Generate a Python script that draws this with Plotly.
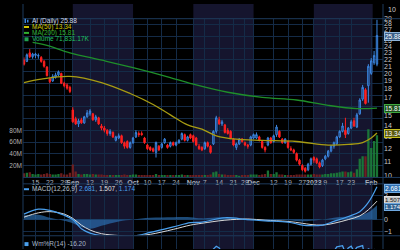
import math
import plotly.graph_objects as go

# ---------------- data (trading-day index 0 = 2022-08-09 ... 123 = 2023-02-03) ----------------
opens = [
    21.9, 21.7, 23.0, 22.4, 22.6, 22.5, 22.3, 21.7, 20.9, 19.3, 19.0, 19.5, 19.8, 20.0, 18.7, 18.5, 18.2,
    15.6, 14.7, 14.2, 14.6, 14.3, 14.9, 15.2, 15.2, 14.6, 14.8, 14.0, 13.8, 13.6, 13.3, 13.4, 12.7, 12.9, 13.1, 12.5, 12.6, 12.1,
    12.5, 13.0, 13.3, 13.3, 12.9, 12.3, 12.1, 12.0, 11.7, 12.2, 12.1, 12.5, 12.3, 12.2, 12.5, 12.3, 12.5, 12.8, 13.2, 12.7, 13.2,
    13.1, 12.9, 12.2, 12.1, 12.0, 12.5, 12.2, 12.4, 13.5, 14.6, 14.2, 14.1, 13.6, 13.5, 12.8, 12.1, 12.4, 12.8, 12.5, 12.3, 12.3,
    12.9, 12.9, 13.0, 12.6, 12.1, 12.3, 12.9, 12.6, 13.2, 13.5, 12.8, 12.5, 12.6, 12.0, 11.9, 11.6, 11.1, 10.7, 10.5, 10.4, 10.8,
    11.3, 11.2, 10.9, 10.7, 11.2, 11.4, 11.8, 12.2, 12.4, 13.0, 13.5, 13.6, 13.3, 13.8, 14.5, 13.9, 15.2, 16.8, 17.9, 18.4, 20.0, 21.5, 21.3,
]
highs = [
    22.3, 22.9, 23.6, 23.0, 23.0, 22.9, 22.5, 21.9, 21.0, 19.4, 19.9, 20.1, 20.4, 20.1, 18.9, 18.7, 18.4,
    15.9, 14.9, 14.7, 14.8, 15.0, 15.6, 15.7, 15.3, 15.1, 14.9, 14.2, 14.0, 13.7, 13.7, 13.5, 13.1, 13.3, 13.2, 12.6, 12.7, 12.6,
    13.0, 13.6, 13.5, 13.5, 13.0, 12.4, 12.2, 12.1, 12.6, 12.3, 12.5, 12.9, 12.4, 12.6, 12.6, 12.6, 12.8, 13.4, 13.3, 13.1, 13.3,
    13.2, 13.0, 12.4, 12.2, 12.6, 12.6, 12.3, 13.6, 15.0, 14.9, 14.6, 14.2, 13.8, 13.6, 12.9, 12.5, 12.9, 12.9, 12.6, 12.4, 13.1,
    13.3, 13.4, 13.1, 12.7, 12.2, 13.0, 13.0, 13.2, 14.1, 13.6, 12.9, 12.9, 12.7, 12.2, 12.0, 11.7, 11.2, 10.8, 10.6, 10.9, 11.3,
    11.4, 11.3, 11.0, 11.2, 11.5, 11.9, 12.3, 12.6, 13.1, 13.6, 14.3, 14.8, 13.9, 14.6, 14.8, 15.3, 16.9, 18.5, 18.1, 21.3, 22.2, 23.3, 28.8,
]
lows = [
    21.1, 21.6, 22.2, 22.1, 22.2, 22.1, 21.5, 20.8, 19.6, 18.7, 18.9, 19.3, 19.6, 18.6, 18.2, 17.9, 17.5,
    14.3, 14.1, 13.9, 14.2, 14.2, 14.8, 15.0, 14.5, 14.4, 14.1, 13.6, 13.4, 13.1, 13.1, 12.9, 12.6, 12.8, 12.4, 12.0, 12.0, 12.0,
    12.4, 12.9, 13.0, 13.1, 12.4, 11.9, 11.8, 11.7, 11.3, 11.8, 12.0, 12.4, 12.0, 12.1, 12.2, 12.2, 12.4, 12.7, 12.6, 12.6, 12.8,
    12.5, 12.2, 11.9, 11.8, 11.9, 12.1, 11.6, 12.3, 13.3, 14.1, 14.0, 13.3, 13.2, 12.8, 12.2, 11.9, 12.3, 12.5, 12.2, 12.0, 12.2,
    12.8, 12.8, 12.6, 12.0, 11.7, 12.2, 12.4, 12.5, 13.0, 12.9, 12.4, 12.4, 12.0, 11.8, 11.6, 11.0, 10.7, 10.3, 10.2, 10.3, 10.7,
    10.9, 10.8, 10.5, 10.6, 11.1, 11.3, 11.7, 12.0, 12.3, 12.9, 13.4, 12.9, 13.2, 13.7, 13.9, 13.8, 15.1, 16.6, 16.2, 16.4, 19.8, 21.2, 21.0,
]
closes = [
    21.3, 22.7, 22.4, 22.8, 22.8, 22.6, 21.7, 21.0, 19.7, 18.9, 19.6, 19.8, 20.2, 18.7, 18.4, 18.1, 17.7,
    14.4, 14.2, 14.5, 14.3, 14.9, 15.3, 15.5, 14.6, 14.9, 14.2, 13.8, 13.6, 13.3, 13.5, 13.0, 13.0, 13.1, 12.5, 12.2, 12.1, 12.5,
    12.9, 13.4, 13.2, 13.2, 12.5, 12.0, 11.9, 11.8, 12.5, 11.9, 12.4, 12.8, 12.1, 12.5, 12.3, 12.5, 12.7, 13.3, 12.7, 13.0, 12.9,
    12.6, 12.3, 12.0, 11.9, 12.5, 12.2, 11.7, 13.5, 14.8, 14.2, 14.4, 13.4, 13.3, 12.9, 12.3, 12.4, 12.8, 12.6, 12.3, 12.2, 13.0,
    13.2, 13.2, 12.7, 12.1, 11.9, 12.9, 12.5, 13.1, 13.9, 13.0, 12.5, 12.8, 12.1, 11.9, 11.7, 11.1, 10.8, 10.4, 10.3, 10.8, 11.2,
    11.1, 10.9, 10.6, 11.1, 11.4, 11.8, 12.2, 12.5, 13.0, 13.5, 14.0, 13.2, 13.8, 14.4, 14.0, 15.1, 16.7, 18.2, 16.3, 21.0, 21.8, 22.6, 25.88,
]
volumes_m = [
    7, 8, 9, 6, 5, 6, 5, 6, 7, 6, 5, 5, 6, 7, 5, 5, 8,
    22, 10, 6, 5, 6, 6, 5, 6, 5, 5, 5, 4, 4, 4, 4, 4, 4, 4, 5, 4, 4,
    5, 5, 4, 4, 4, 4, 4, 4, 6, 4, 4, 4, 4, 4, 4, 4, 4, 5, 4, 4, 4,
    4, 4, 4, 4, 4, 4, 5, 9, 10, 6, 5, 5, 4, 4, 4, 4, 3, 4, 4, 4, 5,
    5, 5, 4, 5, 6, 12, 6, 6, 9, 5, 5, 4, 4, 4, 4, 5, 5, 5, 5, 5, 5,
    6, 5, 5, 5, 6, 6, 7, 7, 8, 9, 10, 10, 9, 10, 8, 14, 32, 36, 36, 82, 50, 62, 71.8,
]

ma50_i = [0, 6, 16, 27, 37, 45, 51, 57, 62, 67, 74, 83, 95, 106, 113, 118, 121, 123]
ma50_v = [18.8, 19.25, 19.6, 18.8, 17.45, 16.2, 15.1, 14.1, 13.7, 13.1, 12.8, 12.7, 12.6, 12.3, 12.35, 12.5, 12.9, 13.34]

ma200_i = [3, 8, 16, 28, 38, 51, 60, 71, 83, 95, 106, 116, 123]
ma200_v = [24.7, 24.2, 23.0, 21.8, 20.8, 19.45, 18.5, 17.6, 17.0, 16.7, 16.1, 15.75, 15.81]

macd_i = [0, 5, 9, 14, 17, 20, 23, 27, 33, 38, 44, 52, 58, 62, 70, 78, 84, 92, 97, 100, 104, 108, 113, 117, 120, 123]
macd_v = [0.45, 0.85, 0.75, 0.35, 0.0, -0.75, -1.1, -1.3, -1.35, -1.35, -1.05, -0.6, -0.25, -0.2, 0.15, 0.0,
          -0.1, -0.2, -0.45, -0.5, -0.45, -0.15, 0.25, 0.65, 1.4, 2.681]
signal_v = [0.2, 0.55, 0.65, 0.45, 0.1, -0.45, -0.85, -1.15, -1.3, -1.35, -1.2, -0.8, -0.45, -0.3, -0.05, 0.05,
            -0.05, -0.15, -0.3, -0.4, -0.45, -0.3, 0.0, 0.3, 0.8, 1.507]
hist_v = [0.35, 0.4, 0.15, -0.1, -0.3, -0.6, -0.75, -0.5, -0.15, 0.0, 0.15, 0.2, 0.2, 0.1, 0.2, -0.05,
          -0.05, -0.05, -0.15, -0.1, 0.0, 0.15, 0.25, 0.35, 0.6, 1.174]

wr_i = [0, 8, 13, 17, 23, 30, 38, 46, 55, 62, 66, 67, 68, 70, 75, 85, 88, 92, 98, 104, 108, 109, 110, 111,
        112, 113, 114, 115, 116, 117, 118, 119, 120, 121, 122, 123]
wr_v = [-35, -85, -60, -95, -40, -85, -45, -70, -35, -75, -8, -3, -6, -40, -65, -50, -25, -70, -95, -60, -12,
        -4, -3, -2, -15, -6, -3, -12, -5, -3, -2, -30, -8, -10, -9, -16.2]

tick_idx = [4, 9, 14, 17, 23, 28, 33, 38, 43, 48, 53, 59, 63, 68, 73, 77, 80, 87, 92, 97, 101, 105, 110, 114, 121]
tick_text = ["15", "22", "29", "<b>Sep</b>", "12", "19", "26", "<b>Oct</b>", "10", "17", "24", "<b>Nov</b>",
             "7", "14", "21", "28", "<b>Dec</b>", "12", "19", "27", "<b>2023</b>", "9", "17", "23", "<b>Feb</b>"]
shade_bands = [(17, 38), (59, 80), (101, 121.5)]
# price ticks (26 and 16 sit under the value boxes in the reference)
price_ticks = [10, 11, 12, 13, 14, 15, 17, 18, 19, 20, 21, 22, 23, 24, 25, 27, 28, 29]
macd_ticks = [-1, 0, 2]

# ---------------- figure ----------------
FONT = "Liberation Sans, Arial, sans-serif"
GRID = "#142b47"
n = len(closes)
idx = list(range(n))
vol_colors = ["rgba(28,128,58,0.9)" if c >= o else "rgba(120,32,32,0.9)" for o, c in zip(opens, closes)]

fig = go.Figure()
fig.add_trace(go.Bar(x=idx, y=volumes_m, marker=dict(color=vol_colors, line=dict(width=0)),
                     width=0.8, xaxis="x", yaxis="y"))
fig.add_trace(go.Scatter(x=ma200_i, y=ma200_v, mode="lines",
                         line=dict(color="#1f8f2a", width=1.3, shape="spline"), xaxis="x", yaxis="y2"))
fig.add_trace(go.Scatter(x=ma50_i, y=ma50_v, mode="lines",
                         line=dict(color="#a89c12", width=1.3, shape="spline"), xaxis="x", yaxis="y2"))
fig.add_trace(go.Candlestick(x=idx, open=opens, high=highs, low=lows, close=closes, xaxis="x", yaxis="y2",
                             whiskerwidth=0,
                             increasing=dict(line=dict(color="#3b86e0", width=1), fillcolor="rgba(40,80,140,0.35)"),
                             decreasing=dict(line=dict(color="#ff2020", width=1), fillcolor="#ff2020")))
fig.add_trace(go.Scatter(x=macd_i, y=hist_v, mode="lines", fill="tozeroy",
                         line=dict(width=0, shape="spline", color="rgba(45,115,185,0.7)"),
                         fillcolor="rgba(45,115,185,0.65)", xaxis="x2", yaxis="y3"))
fig.add_trace(go.Scatter(x=macd_i, y=signal_v, mode="lines",
                         line=dict(color="#d8d8d8", width=1, shape="spline"), xaxis="x2", yaxis="y3"))
fig.add_trace(go.Scatter(x=macd_i, y=macd_v, mode="lines",
                         line=dict(color="#4aa0ee", width=1.2, shape="spline"), xaxis="x2", yaxis="y3"))
fig.add_trace(go.Scatter(x=wr_i, y=wr_v, mode="lines",
                         line=dict(color="#4aa0ee", width=1.3), xaxis="x3", yaxis="y4"))

X0, X1 = 23 / 400, 383 / 400
common_x = dict(range=[-0.35, 125.1], tickvals=tick_idx, showgrid=True, gridcolor=GRID, gridwidth=1,
                zeroline=False, showline=False, ticks="", fixedrange=True, domain=[X0, X1])


def py(px):
    return 1 - px / 250


shapes = []
for a, b in shade_bands:
    shapes.append(dict(type="rect", xref="x", yref="paper", x0=a, x1=b, y0=0, y1=1,
                       fillcolor="#15152e", line=dict(width=0), layer="below"))
for ypx in [15, 177, 183.5, 236.5]:
    shapes.append(dict(type="line", xref="paper", yref="paper", x0=X0, x1=1, y0=py(ypx), y1=py(ypx),
                       line=dict(color="#1d3a5c", width=1)))
for xpx in [23, 383]:
    shapes.append(dict(type="line", xref="paper", yref="paper", x0=xpx / 400, x1=xpx / 400, y0=0, y1=1,
                       line=dict(color="#1d3a5c", width=1)))
# legend icons
shapes.append(dict(type="rect", xref="paper", yref="paper", x0=24.5 / 400, x1=26 / 400, y0=py(19.5), y1=py(15),
                   fillcolor="#3b86e0", line=dict(width=0)))
shapes.append(dict(type="rect", xref="paper", yref="paper", x0=27 / 400, x1=28.5 / 400, y0=py(19), y1=py(16),
                   fillcolor="#3b86e0", line=dict(width=0)))
shapes.append(dict(type="line", xref="paper", yref="paper", x0=24 / 400, x1=29 / 400, y0=py(23.5), y1=py(23.5),
                   line=dict(color="#d4c800", width=2)))
shapes.append(dict(type="line", xref="paper", yref="paper", x0=24 / 400, x1=29 / 400, y0=py(29.5), y1=py(29.5),
                   line=dict(color="#30b030", width=2)))
shapes.append(dict(type="rect", xref="paper", yref="paper", x0=24.5 / 400, x1=28.5 / 400, y0=py(38), y1=py(34),
                   fillcolor="#20a050", line=dict(width=0)))
shapes.append(dict(type="line", xref="paper", yref="paper", x0=24 / 400, x1=29 / 400, y0=py(189), y1=py(189),
                   line=dict(color="#4aa0ee", width=2)))
shapes.append(dict(type="rect", xref="paper", yref="paper", x0=24.5 / 400, x1=28.5 / 400, y0=py(247), y1=py(243),
                   fillcolor="#4aa0ee", line=dict(width=0)))


def txt(x, ypx, text, color, size=6.5, **kw):
    d = dict(xref="paper", yref="paper", x=x / 400, y=py(ypx), text=text, showarrow=False,
             xanchor="left", yanchor="middle", font=dict(family=FONT, size=size, color=color))
    d.update(kw)
    return d


def box(ypx, text, bg, border, fcolor="#ffffff", size=6.5):
    return txt(384, ypx, text, fcolor, size=size, bgcolor=bg, bordercolor=border, borderwidth=1, borderpad=0)


annotations = [
    txt(30, 17, "AI (Daily) 25.88", "#d0d8e8"),
    txt(30, 23.5, "MA(50) 13.34", "#d4c800"),
    txt(30, 29.5, "MA(200) 15.81", "#30b030"),
    txt(30, 35.5, "Volume 71,831.17K", "#20c060"),
    txt(30, 189, "MACD(12,26,9) <span style='color:#4aa0ee'>2.681</span>, "
                 "<span style='color:#e0e0e0'>1.507</span>, <span style='color:#4aa0ee'>1.174</span>", "#b8c0cc"),
    txt(30, 245, "Wm%R(14) -16.20", "#a8b8c8"),
    txt(386, 6, "10", "#c8c8c8", size=7),
    box(33, "25.88", "#3a5f8a", "#8fb4da"),
    box(107, "15.81", "#1c4f1c", "#3fa83f"),
    box(132, "13.34", "#5a5a10", "#c8c020"),
    box(188, "2.681", "#2f6fb0", "#6fa8e0"),
    box(199.5, "1.507", "#c8c8c8", "#e0e0e0", fcolor="#111111", size=6),
    box(207.5, "1.174", "#2f6090", "#6fa8e0", size=6),
]

fig.update_layout(
    width=400, height=250, margin=dict(l=0, r=0, t=0, b=0),
    paper_bgcolor="#000000", plot_bgcolor="rgba(0,0,0,0)",
    showlegend=False, font=dict(family=FONT, size=7, color="#c8c8c8"),
    xaxis=dict(**common_x, anchor="y", ticktext=tick_text, tickangle=0,
               tickfont=dict(family=FONT, size=7, color="#a8b0bc"), rangeslider=dict(visible=False)),
    xaxis2=dict(**common_x, anchor="y3", showticklabels=False),
    xaxis3=dict(**common_x, anchor="y4", showticklabels=False),
    yaxis=dict(domain=[py(177), py(15)], range=[0, 270], side="left", anchor="x",
               tickvals=list(range(20, 261, 20)), ticktext=["20M", "40M", "60M", "80M"] + [""] * 9,
               showgrid=True, gridcolor=GRID, zeroline=False, ticks="",
               tickfont=dict(family=FONT, size=6.5, color="#b0b0b0"), fixedrange=True),
    yaxis2=dict(overlaying="y", side="right", anchor="x", type="log",
                range=[math.log10(9.87), math.log10(29.0)], tickvals=price_ticks,
                ticktext=[str(v) for v in price_ticks], showgrid=False, zeroline=False, ticks="",
                tickfont=dict(family=FONT, size=7, color="#c8c8c8"), fixedrange=True),
    yaxis3=dict(domain=[py(236), py(184)], range=[-1.28, 2.88], side="right", anchor="x2",
                tickvals=macd_ticks, showgrid=True, gridcolor=GRID, zeroline=False, ticks="",
                tickfont=dict(family=FONT, size=7, color="#c8c8c8"), fixedrange=True),
    yaxis4=dict(domain=[0, py(237)], range=[-8, 15], side="right", anchor="x3",
                showticklabels=False, showgrid=False, zeroline=False, fixedrange=True),
    shapes=shapes, annotations=annotations,
)

fig.write_html("out.html")
